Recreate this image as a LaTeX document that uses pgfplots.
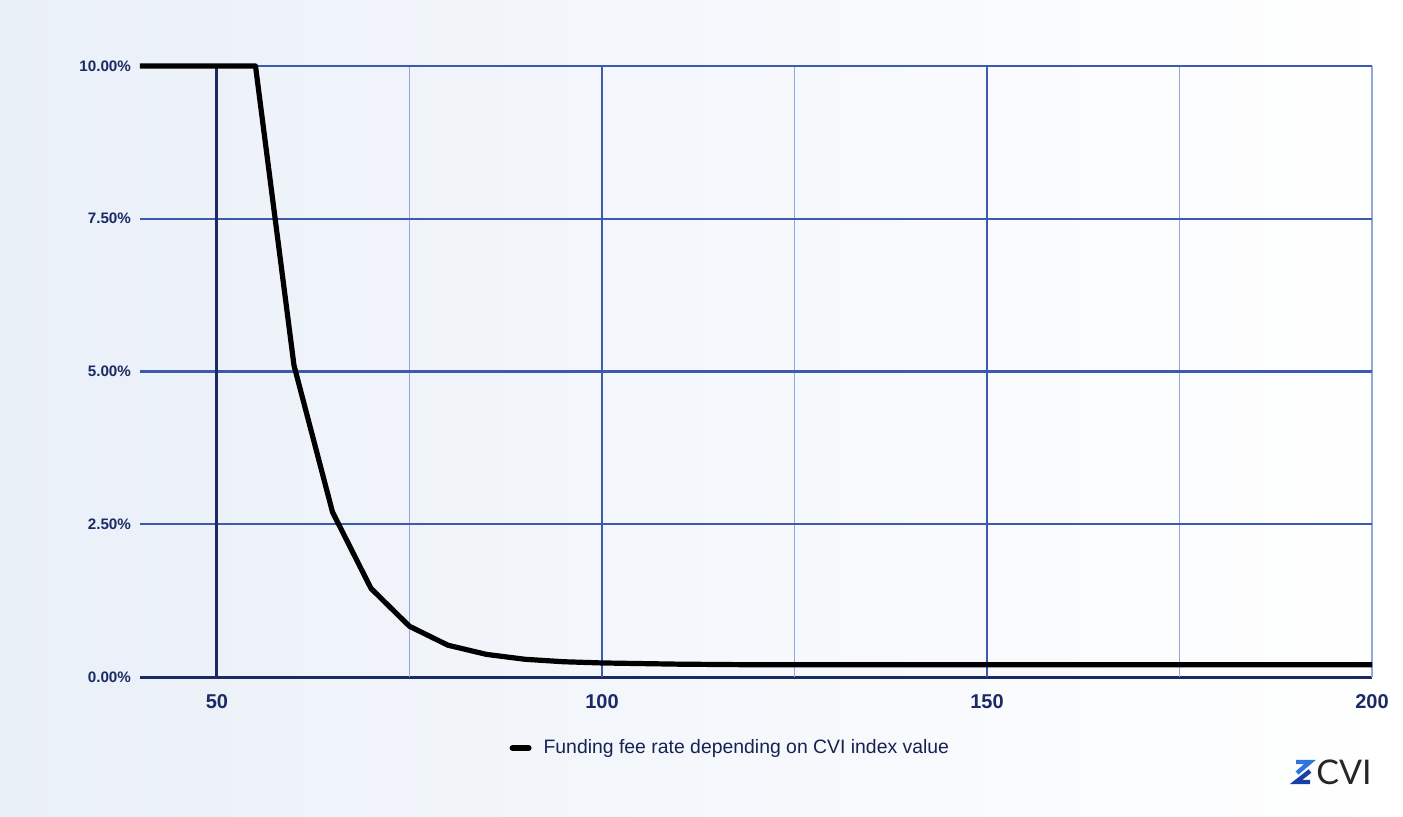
\documentclass[border=0pt]{standalone}
\usepackage{fontspec}
\setmainfont{Liberation Sans}
\newfontfamily\logofont{Lato}
\usepackage{pgfplots}
\pgfplotsset{compat=1.18}
\usetikzlibrary{backgrounds}
\definecolor{navy}{HTML}{1B2A66}
\definecolor{gridmaj}{HTML}{3D5AAE}
\definecolor{gridmin}{HTML}{90A8DA}
\definecolor{bgl}{HTML}{EAF0F8}
\definecolor{bgr}{HTML}{FFFFFF}
\definecolor{logoA}{HTML}{2F74E0}
\definecolor{logoB}{HTML}{1A3FA8}
\begin{document}
\begin{tikzpicture}
\begin{axis}[
  name=ax, at={(0,0)}, anchor=south west,
  scale only axis, width=616pt, height=305.5pt,
  xmin=40, xmax=200, ymin=0, ymax=10,
  xtick={50,100,150,200}, ytick={0,2.5,5,7.5,10},
  yticklabel={\pgfmathprintnumber[fixed,fixed zerofill,precision=2]{\tick}\%},
  /pgf/number format/assume math mode=true,
  axis lines*=left,
  x axis line style={navy, line width=1.5pt, -},
  y axis line style={draw=none},
  major tick length=0pt, tick style={draw=none},
  yticklabel style={font=\bfseries\fontsize{7.6}{8}\selectfont, text=navy, xshift=-1pt},
  xticklabel style={font=\bfseries\fontsize{10}{12}\selectfont, text=navy, yshift=-5pt},
  clip=false,
  legend style={at={(0.48,0)}, anchor=center, yshift=-35.5pt, draw=none, fill=none,
    font=\fontsize{9.7}{11}\selectfont, text=navy!80!black},
  legend image code/.code={\draw[line width=3pt, line cap=round, black] (0pt,0pt) -- (8pt,0pt);},
]
% grid
\draw[gridmin, line width=0.8pt] (axis cs:75,0) -- (axis cs:75,10);
\draw[gridmin, line width=0.8pt] (axis cs:125,0) -- (axis cs:125,10);
\draw[gridmin, line width=0.8pt] (axis cs:175,0) -- (axis cs:175,10);
\draw[gridmin, line width=0.8pt] (axis cs:200,0) -- (axis cs:200,10);
\draw[gridmaj, line width=1pt] (axis cs:100,0) -- (axis cs:100,10);
\draw[gridmaj, line width=1pt] (axis cs:150,0) -- (axis cs:150,10);
\draw[gridmaj, line width=1.1pt] (axis cs:40,2.5) -- (axis cs:200,2.5);
\draw[gridmaj, line width=1.1pt] (axis cs:40,5) -- (axis cs:200,5);
\draw[gridmaj, line width=1.1pt] (axis cs:40,7.5) -- (axis cs:200,7.5);
\draw[gridmaj, line width=1.1pt] (axis cs:40,10) -- (axis cs:200,10);
\draw[navy, line width=1.5pt] (axis cs:50,0) -- (axis cs:50,10);
\addplot[black, line width=2.6pt, line join=round] coordinates {
 (40,10) (55,10) (60,5.1) (65,2.7) (70,1.45) (75,0.83) (80,0.52) (85,0.37)
 (90,0.29) (95,0.25) (100,0.23) (110,0.21) (120,0.2) (200,0.2)
};
\addlegendentry{\hspace{4pt}Funding fee rate depending on CVI index value}
\end{axis}
\begin{scope}[on background layer]
\shade[left color=bgl, right color=bgr] (-70pt,-69.5pt) rectangle (631.5pt,338.5pt);
\end{scope}
% logo
\draw[logoA, line width=2.2pt, line join=miter] (578pt,-42.5pt) -- (585pt,-42.5pt) -- (578.5pt,-48pt);
\draw[logoB, line width=2.2pt, line join=miter] (585pt,-47pt) -- (578pt,-52.5pt) -- (585pt,-52.5pt);
\node[anchor=west, inner sep=0pt, font=\logofont\fontsize{17}{17}\selectfont, text=black!85] at (588pt,-47.5pt) {CVI};
\pgfresetboundingbox
\useasboundingbox (-70pt,-69.5pt) rectangle (631.5pt,338.5pt);
\end{tikzpicture}
\end{document}
